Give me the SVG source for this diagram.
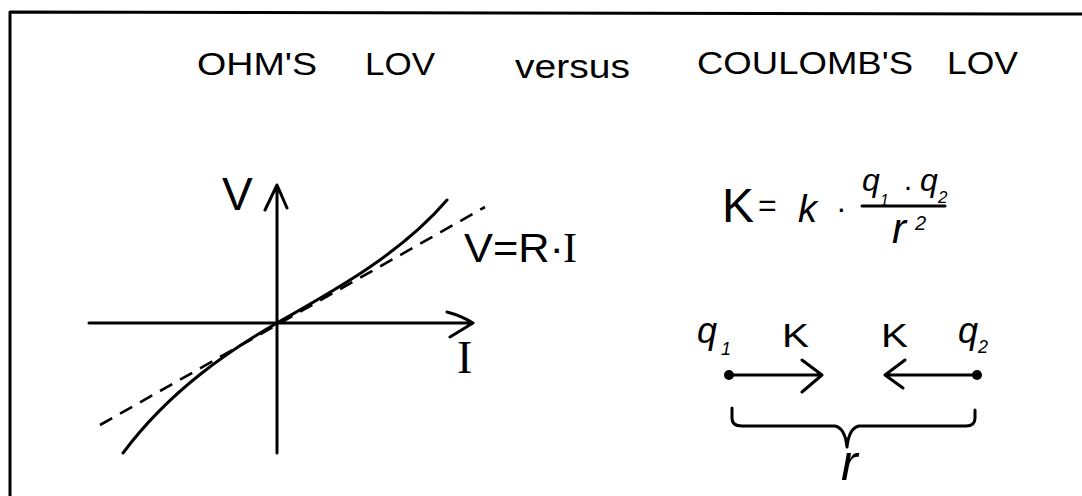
<svg xmlns="http://www.w3.org/2000/svg" width="1082" height="496" viewBox="0 0 1082 496">
<style>
text{font-family:"Liberation Sans",Arial,sans-serif;fill:#000}
.ln{stroke:#000;stroke-width:3;fill:none;stroke-linecap:round;stroke-linejoin:round}
.dash{stroke:#000;stroke-width:2.6;fill:none;stroke-dasharray:14 9}
.it{font-style:italic}
.sf{font-family:"Liberation Serif","Times New Roman",serif}
</style>
<rect width="1082" height="496" fill="#fff"/>
<g id="frame"><path class="ln" d="M10,496 V12 L1082,14"/></g>
<g id="title">
<text x="197" y="75" font-size="31" textLength="120" lengthAdjust="spacingAndGlyphs">OHM'S</text>
<text x="365" y="75" font-size="31" textLength="70" lengthAdjust="spacingAndGlyphs">LOV</text>
<text x="515" y="78" font-size="33" textLength="115" lengthAdjust="spacingAndGlyphs">versus</text>
<text x="697" y="74" font-size="31" textLength="216" lengthAdjust="spacingAndGlyphs">COULOMB'S</text>
<text x="947" y="74" font-size="31" textLength="71" lengthAdjust="spacingAndGlyphs">LOV</text>
</g>
<g id="ohm-graph">
<path class="ln" d="M277,453 V185 M265,210 L277,185 L287,208"/>
<path class="ln" d="M89,323 H473 M447,312 Q462,316 473,323 L450,337"/>
<path class="ln" d="M123,453 C170,390 230,350 277,323 C330,293 400,255 447,200"/>
<path class="dash" d="M100,425 L485,207"/>
<text x="222" y="210" font-size="46">V</text>
<text class="sf" x="457" y="373" font-size="46">I</text>
<text x="464" y="262" font-size="40" textLength="100" lengthAdjust="spacingAndGlyphs">V=R·</text>
<text class="sf" x="563" y="262" font-size="42">I</text>
</g>
<g id="formula">
<text x="722" y="222" font-size="48">K</text>
<text x="758" y="216" font-size="32">=</text>
<text class="it" x="798" y="222" font-size="38">k</text>
<text x="836" y="219" font-size="32">·</text>
<text class="it" x="862" y="191" font-size="32">q</text>
<text class="it" x="880" y="206" font-size="16">1</text>
<text x="903" y="196" font-size="30">·</text>
<text class="it" x="920" y="191" font-size="32">q</text>
<text class="it" x="938" y="203" font-size="17">2</text>
<path class="ln" stroke-width="2.5" d="M862,206 H945"/>
<text class="it" x="892" y="243" font-size="42">r</text>
<text class="it" x="915" y="230" font-size="20">2</text>
</g>
<g id="charge-q1">
<circle cx="729" cy="375" r="5"/>
<text class="it" x="697" y="343" font-size="36">q</text>
<text class="it" x="721" y="355" font-size="18">1</text>
<text x="782" y="347" font-size="34" textLength="27" lengthAdjust="spacingAndGlyphs">K</text>
</g>
<g id="charge-q2">
<circle cx="977" cy="375" r="5"/>
<text class="it" x="958" y="343" font-size="36">q</text>
<text class="it" x="978" y="353" font-size="18">2</text>
<text x="881" y="347" font-size="34" textLength="27" lengthAdjust="spacingAndGlyphs">K</text>
</g>
<g id="connectors">
<path class="ln" d="M729,375 H822 M802,360 L822,375 L802,392"/>
<path class="ln" d="M977,375 H885 M905,360 L885,375 L903,388"/>
<path class="ln" d="M732,408 V418 Q732,426 742,426 H835 Q845,428 847,447 Q849,428 859,426 H966 Q975,426 975,418 V410"/>
</g>
<g id="distance">
<text class="it" x="841" y="480" font-size="50">r</text>
</g>
</svg>
